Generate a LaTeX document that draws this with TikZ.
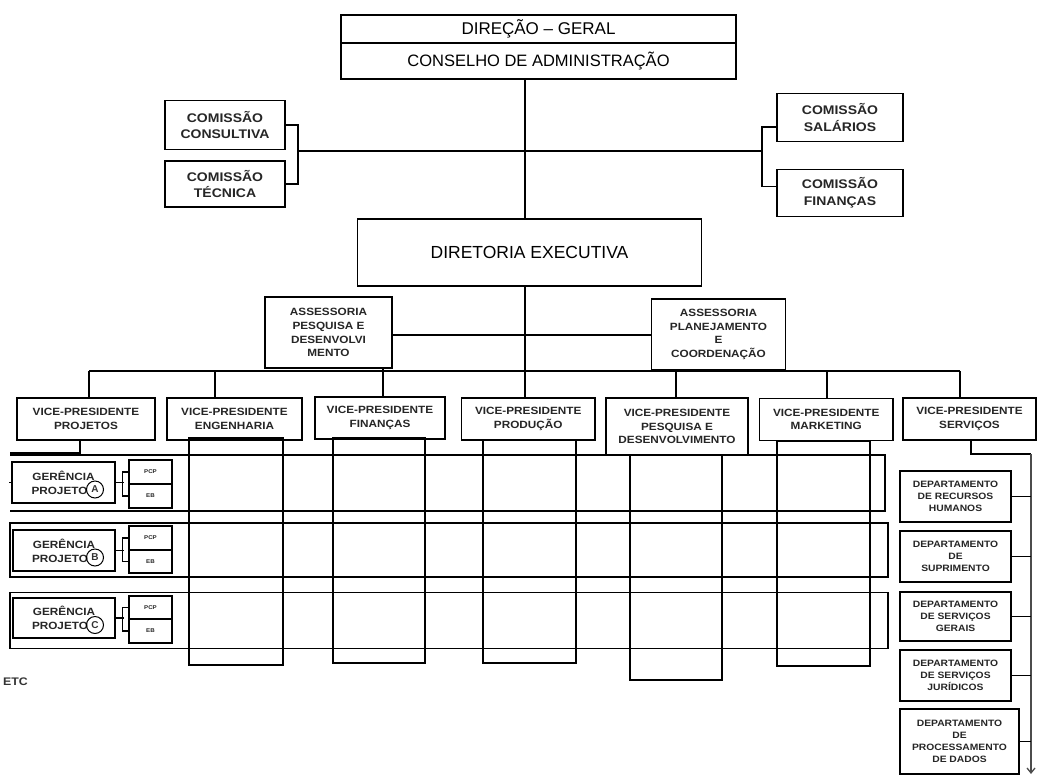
\documentclass[tikz,border=0pt]{standalone}
\usepackage{fontspec}
\setmainfont{Liberation Sans}
\newfontfamily\wb[FakeStretch=1.12]{Liberation Sans}
\usetikzlibrary{arrows.meta}
\tikzset{
  box/.style={draw, line width=1.3pt, inner sep=0pt, align=center, text=black!85},
  bigbox/.style={box, font=\fontsize{17}{20}\selectfont, text=black},
  comm/.style={box, minimum width=120, font=\wb\bfseries\fontsize{12.5}{16.7}\selectfont},
  vpbox/.style={box, minimum height=42, font=\wb\bfseries\fontsize{10.5}{13.3}\selectfont},
  assbox/.style={box, minimum height=71, font=\wb\bfseries\fontsize{10.5}{13.8}\selectfont},
  colbox/.style={draw, line width=1.3pt, inner sep=0pt},
  gbox/.style={box, minimum width=102, font=\wb\bfseries\fontsize{10.5}{14}\selectfont},
  tinybox/.style={box, minimum width=43, font=\wb\bfseries\fontsize{5.5}{6}\selectfont},
  circ/.style={draw, circle, line width=1pt, inner sep=0pt, minimum size=17, text=black!80, font=\bfseries\fontsize{10}{10}\selectfont},
  dept/.style={box, minimum width=111, font=\wb\bfseries\fontsize{9.2}{11.9}\selectfont},
  conn/.style={line width=1.3pt}
}
\begin{document}
\begin{tikzpicture}[x=1pt,y=-1pt]
\fill[white] (0,0) rectangle (1043,776);
\useasboundingbox (0,0) rectangle (1043,776);

% top
\node[bigbox, minimum width=395, minimum height=28] (dg) at (538.5,29) {DIREÇÃO – GERAL};
\node[bigbox, minimum width=395, minimum height=36, font=\fontsize{16.5}{20}\selectfont] (ca) at (538.5,61) {CONSELHO DE ADMINISTRAÇÃO};

% commissions
\node[comm, minimum height=49] (cc) at (225,125) {COMISSÃO\\CONSULTIVA};
\node[comm, minimum height=46] (ct) at (225,184) {COMISSÃO\\TÉCNICA};
\node[comm, minimum width=126, minimum height=48] (cs) at (840,117.5) {COMISSÃO\\SALÁRIOS};
\node[comm, minimum width=126, minimum height=47] (cf) at (840,192.7) {COMISSÃO\\FINANÇAS};

% diretoria
\node[bigbox, minimum width=344, minimum height=67, font=\fontsize{17.5}{20}\selectfont] (de) at (529.5,252.5) {DIRETORIA EXECUTIVA};

% assessorias
\node[assbox, minimum width=127] (aL) at (328.5,332.5) {ASSESSORIA\\PESQUISA E\\DESENVOLVI\\MENTO};
\node[assbox, minimum width=134] (aR) at (718.5,334.5) {ASSESSORIA\\PLANEJAMENTO\\E\\COORDENAÇÃO};

% vice-presidents
\node[vpbox, minimum width=138] (vp1) at (86,419) {VICE-PRESIDENTE\\PROJETOS};
\node[vpbox, minimum width=135] (vp2) at (234.5,419) {VICE-PRESIDENTE\\ENGENHARIA};
\node[vpbox, minimum width=130] (vp3) at (380,418) {VICE-PRESIDENTE\\FINANÇAS};
\node[vpbox, minimum width=133.5] (vp4) at (528.25,419) {VICE-PRESIDENTE\\PRODUÇÃO};
\node[vpbox, minimum width=142, minimum height=57] (vp5) at (677,426.5) {VICE-PRESIDENTE\\PESQUISA E\\DESENVOLVIMENTO};
\node[vpbox, minimum width=133.5] (vp6) at (826.25,419.5) {VICE-PRESIDENTE\\MARKETING};
\node[vpbox, minimum width=133] (vp7) at (969.5,419) {VICE-PRESIDENTE\\SERVIÇOS};

% columns under VPs
\node[colbox, minimum width=94, minimum height=227] (colEng) at (236,551.5) {};
\node[colbox, minimum width=92, minimum height=225] (colFin) at (379,550.5) {};
\node[colbox, minimum width=93, minimum height=223] (colProd) at (529.5,551.5) {};
\node[colbox, minimum width=92, minimum height=225] (colPD) at (676,567.5) {};
\node[colbox, minimum width=93, minimum height=225] (colMkt) at (823.5,553.5) {};

% project rows
\draw[conn] (10,455) -- (885,455) -- (885,511) -- (10,511);
\node[colbox, minimum width=878, minimum height=54] (rowB) at (449,550) {};
\node[colbox, minimum width=878, minimum height=56] (rowC) at (449,620.5) {};

% gerencias
\node[gbox, minimum width=103, minimum height=41] (gA) at (63.5,482.5) {GERÊNCIA\\PROJETO\hspace*{8pt}};
\node[gbox, minimum height=41] (gB) at (64,550.5) {GERÊNCIA\\PROJETO\hspace*{8pt}};
\node[gbox, minimum height=40] (gC) at (64,618) {GERÊNCIA\\PROJETO\hspace*{8pt}};
\node[circ] (cA) at (95,489.5) {A};
\node[circ] (cB) at (95,557.5) {B};
\node[circ] (cC) at (95,625) {C};

\node[tinybox, minimum height=24] (pA) at (150.5,472) {PCP};
\node[tinybox, minimum height=24] (eA) at (150.5,496) {EB};
\node[tinybox, minimum height=24] (pB) at (150.5,538) {PCP};
\node[tinybox, minimum height=23] (eB) at (150.5,561.5) {EB};
\node[tinybox, minimum height=23] (pC) at (150.5,607.5) {PCP};
\node[tinybox, minimum height=24] (eC) at (150.5,631) {EB};

\foreach \g/\p/\e in {gA/pA/eA, gB/pB/eB, gC/pC/eC}{
  \draw[conn] (\g.east) -- ++(8,0);
  \draw[conn] (\p.west) -- ++(-6,0) |- (\e.west);
}
\draw[conn] (gA.west) -- ++(-2.5,0);

% departments
\node[dept, minimum height=51] (d1) at (955.5,496.5) {DEPARTAMENTO\\DE RECURSOS\\HUMANOS};
\node[dept, minimum height=51] (d2) at (955.5,556.5) {DEPARTAMENTO\\DE\\SUPRIMENTO};
\node[dept, minimum height=49] (d3) at (955.5,616.5) {DEPARTAMENTO\\DE SERVIÇOS\\GERAIS};
\node[dept, minimum height=51] (d4) at (955.5,675.5) {DEPARTAMENTO\\DE SERVIÇOS\\JURÍDICOS};
\node[dept, minimum width=119, minimum height=65] (d5) at (959.5,741.5) {DEPARTAMENTO\\DE\\PROCESSAMENTO\\DE DADOS};

\node[anchor=east, inner sep=0pt, text=black!80, font=\wb\bfseries\fontsize{11}{12}\selectfont] (etc) at (28,681.5) {ETC};

% connectors
\coordinate (mx) at (525,0);
\draw[conn] (ca.south -| mx) -- (de.north -| mx);
\coordinate (bL) at (298,151);
\coordinate (bR) at (762,151);
\draw[conn] (bL) -- (bR);
\draw[conn] (cc.east) -| (bL) |- (ct.east);
\draw[conn] ([yshift=-9.5pt]cs.west) -| (bR) |- ([yshift=6.5pt]cf.west);

\draw[conn] (de.south -| mx) -- (vp4.north -| mx);
\coordinate (ay) at (0,335);
\draw[conn] (aL.east |- ay) -- (aR.west |- ay);

\coordinate (busL) at (89,371);
\coordinate (busR) at (960,371);
\draw[conn] (busL) -- (busR);
\draw[conn] (busL) -- (busL |- vp1.north);
\coordinate (x2) at (215,0);
\coordinate (x3) at (383,0);
\coordinate (x5) at (676,0);
\coordinate (x6) at (827,0);
\draw[conn] (busL -| x2) -- (vp2.north -| x2);
\draw[conn] (aL.south -| x3) -- (vp3.north -| x3);
\draw[conn] (aR.south -| x5) -- (vp5.north -| x5);
\draw[conn] (busL -| x6) -- (vp6.north -| x6);
\draw[conn] (busR) -- (busR |- vp7.north);

\coordinate (pj) at (80,453);
\coordinate (pjL) at (10,453);
\draw[conn] (vp1.south -| pj) -- (pj) -- (pjL);

\coordinate (sv) at (971,454);
\coordinate (sr) at (1031,454);
\coordinate (send) at (1031,774);
\draw[conn] (vp7.south -| sv) -- (sv) -- (sr);
\draw[line width=1.3pt, black!70, -{Straight Barb[length=5pt,width=8pt]}] (sr) -- (send);
\foreach \d in {d1,d2,d3,d4,d5}{
  \draw[conn] (\d.east) -- (\d.east -| sr);
}
\end{tikzpicture}
\end{document}
